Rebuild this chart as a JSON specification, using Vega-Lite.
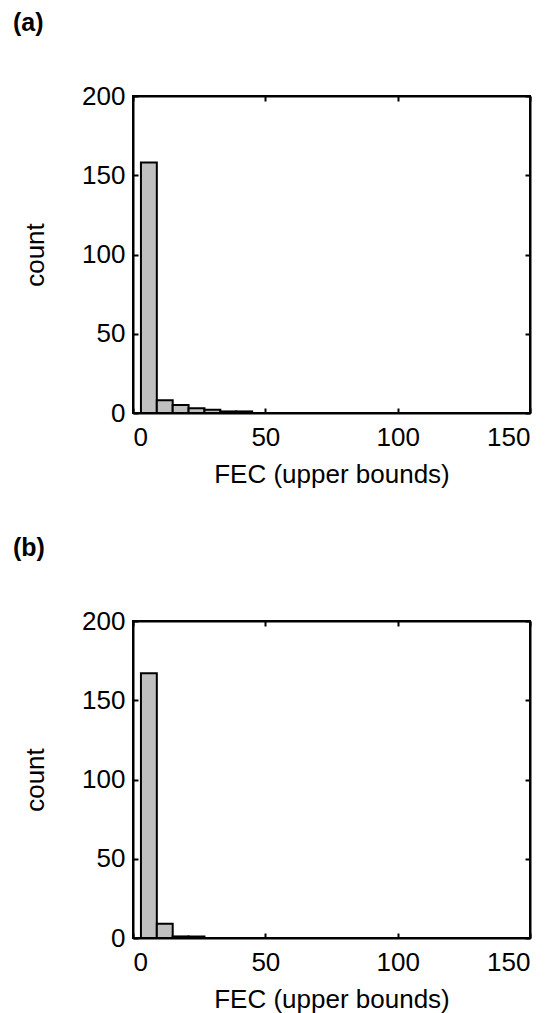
{
  "$schema": "https://vega.github.io/schema/vega-lite/v6.json",
  "autosize": {"type": "pad"},
  "padding": {"left": 12, "top": 10, "right": 0, "bottom": 0},
  "spacing": 208,
  "bounds": "flush",
  "config": {
    "font": "Liberation Sans",
    "view": {"stroke": "black", "strokeWidth": 2},
    "axis": {
      "grid": false,
      "domainColor": "black",
      "domainWidth": 2,
      "tickColor": "black",
      "tickWidth": 2,
      "tickSize": -5,
      "labelFontSize": 26,
      "labelColor": "black",
      "labelFont": "Liberation Sans",
      "titleFontSize": 26,
      "titleFontWeight": "normal",
      "titleColor": "black",
      "titleFont": "Liberation Sans"
    },
    "axisX": {"labelPadding": 16, "titlePadding": 11},
    "axisY": {"labelPadding": 13, "titlePadding": 33},
    "title": {"anchor": "start", "frame": "group", "dx": -120, "offset": 47, "fontSize": 25, "fontWeight": "bold", "color": "black", "font": "Liberation Sans"}
  },
  "datasets": {
    "a": [
      {"bin_start": 3, "bin_end": 9, "count": 158},
      {"bin_start": 9, "bin_end": 15, "count": 8},
      {"bin_start": 15, "bin_end": 21, "count": 5},
      {"bin_start": 21, "bin_end": 27, "count": 3},
      {"bin_start": 27, "bin_end": 33, "count": 2},
      {"bin_start": 33, "bin_end": 39, "count": 1},
      {"bin_start": 39, "bin_end": 45, "count": 1},
      {"bin_start": 45, "bin_end": 51, "count": 0},
      {"bin_start": 51, "bin_end": 57, "count": 0},
      {"bin_start": 57, "bin_end": 63, "count": 0},
      {"bin_start": 63, "bin_end": 69, "count": 0},
      {"bin_start": 69, "bin_end": 75, "count": 0},
      {"bin_start": 75, "bin_end": 81, "count": 0},
      {"bin_start": 81, "bin_end": 87, "count": 0},
      {"bin_start": 87, "bin_end": 93, "count": 0},
      {"bin_start": 93, "bin_end": 99, "count": 0},
      {"bin_start": 99, "bin_end": 105, "count": 0},
      {"bin_start": 105, "bin_end": 111, "count": 0}
    ],
    "b": [
      {"bin_start": 3, "bin_end": 9, "count": 167},
      {"bin_start": 9, "bin_end": 15, "count": 9},
      {"bin_start": 15, "bin_end": 21, "count": 1},
      {"bin_start": 21, "bin_end": 27, "count": 1}
    ]
  },
  "vconcat": [
    {
      "title": {"text": "(a)"},
      "width": 397,
      "height": 317,
      "data": {"name": "a"},
      "layer": [
        {
          "mark": {"type": "bar", "fill": "#c0c0c0", "stroke": "black", "strokeWidth": 2},
          "encoding": {
            "x": {"field": "bin_start", "type": "quantitative", "scale": {"domain": [0, 150], "nice": false}, "axis": {"values": [0, 50, 100, 150], "title": "FEC (upper bounds)"}},
            "x2": {"field": "bin_end"},
            "y": {"field": "count", "type": "quantitative", "scale": {"domain": [0, 200], "nice": false}, "axis": {"values": [0, 50, 100, 150, 200], "title": "count"}},
            "y2": {"datum": 0}
          }
        },
        {
          "mark": {"type": "bar", "opacity": 0},
          "encoding": {
            "x": {"field": "bin_start", "type": "quantitative", "axis": {"orient": "top", "values": [0, 50, 100, 150], "labels": false, "title": null}},
            "x2": {"field": "bin_end"},
            "y": {"field": "count", "type": "quantitative", "axis": {"orient": "right", "values": [0, 50, 100, 150, 200], "labels": false, "title": null}},
            "y2": {"datum": 0}
          }
        }
      ],
      "resolve": {"axis": {"x": "independent", "y": "independent"}}
    },
    {
      "title": {"text": "(b)"},
      "width": 397,
      "height": 317,
      "data": {"name": "b"},
      "layer": [
        {
          "mark": {"type": "bar", "fill": "#c0c0c0", "stroke": "black", "strokeWidth": 2},
          "encoding": {
            "x": {"field": "bin_start", "type": "quantitative", "scale": {"domain": [0, 150], "nice": false}, "axis": {"values": [0, 50, 100, 150], "title": "FEC (upper bounds)"}},
            "x2": {"field": "bin_end"},
            "y": {"field": "count", "type": "quantitative", "scale": {"domain": [0, 200], "nice": false}, "axis": {"values": [0, 50, 100, 150, 200], "title": "count"}},
            "y2": {"datum": 0}
          }
        },
        {
          "mark": {"type": "bar", "opacity": 0},
          "encoding": {
            "x": {"field": "bin_start", "type": "quantitative", "axis": {"orient": "top", "values": [0, 50, 100, 150], "labels": false, "title": null}},
            "x2": {"field": "bin_end"},
            "y": {"field": "count", "type": "quantitative", "axis": {"orient": "right", "values": [0, 50, 100, 150, 200], "labels": false, "title": null}},
            "y2": {"datum": 0}
          }
        }
      ],
      "resolve": {"axis": {"x": "independent", "y": "independent"}}
    }
  ]
}
